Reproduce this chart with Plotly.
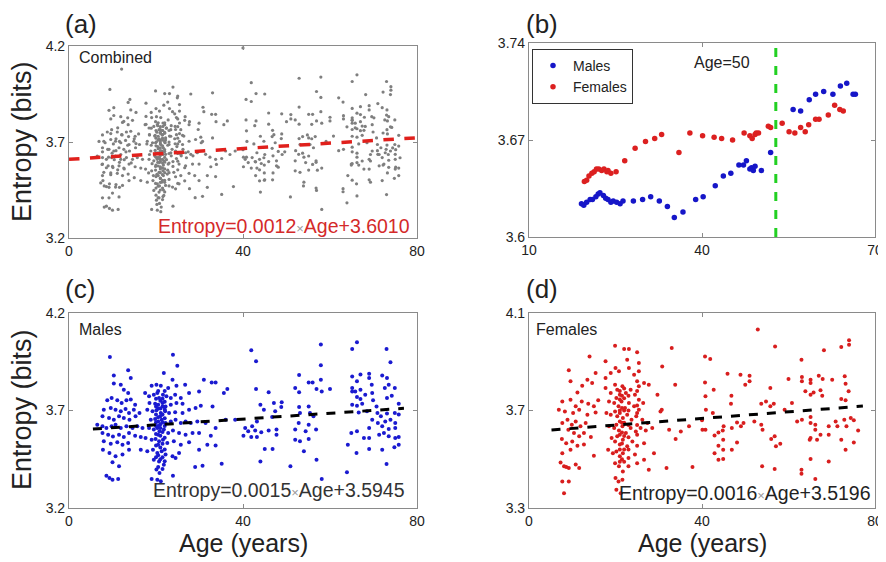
import plotly.graph_objects as go

# ---------------- data ----------------
# (c) Males: [age, entropy]
males_pts = [
 [41.9,4.009],[43.0,3.952],[43.0,3.810],[45.9,3.793],[44.0,3.730],[44.8,3.704],[47.1,3.738],[48.9,3.742],
 [48.8,3.718],[47.4,3.696],[46.7,3.667],[43.2,3.644],[42.1,3.619],[41.2,3.593],[42.8,3.598],[44.2,3.588],
 [45.9,3.598],[47.7,3.602],[47.7,3.576],[40.5,3.610],[40.1,3.571],[41.9,3.564],[43.2,3.564],[45.0,3.503],
 [46.8,3.503],[44.0,3.439],[50.9,3.414],[52.9,3.882],[52.0,3.815],[52.9,3.793],[55.1,3.844],[56.0,3.844],
 [57.9,4.038],[57.9,3.932],[57.9,3.858],[56.9,3.810],[58.1,3.798],[60.0,3.810],[52.9,3.718],[55.1,3.721],
 [53.1,3.687],[55.4,3.687],[56.2,3.670],[52.8,3.636],[55.1,3.627],[56.8,3.602],[54.4,3.593],[52.0,3.602],
 [52.0,3.550],[53.1,3.542],[55.1,3.554],[54.0,3.491],[56.9,3.448],[58.1,3.349],[63.9,3.383],[64.1,3.525],
 [64.9,3.585],[66.2,3.593],[66.1,3.482],[65.1,4.015],[66.2,4.050],[65.1,3.875],[67.0,3.884],[69.0,3.889],
 [69.0,3.867],[66.2,3.850],[65.1,3.815],[65.1,3.798],[65.8,3.798],[67.0,3.806],[66.2,3.769],[67.0,3.759],
 [65.1,3.730],[66.2,3.725],[67.4,3.735],[68.1,3.781],[69.6,3.832],[69.7,3.790],[69.9,3.752],[70.7,3.721],
 [66.6,3.690],[68.5,3.696],[72.0,3.879],[73.1,3.867],[73.5,3.832],[72.6,3.815],[74.9,3.815],[73.1,3.764],
 [74.2,3.776],[75.8,3.735],[70.9,3.687],[71.7,3.670],[73.1,3.684],[74.9,3.687],[75.8,3.679],[69.7,3.653],
 [71.0,3.636],[72.7,3.644],[73.9,3.653],[75.0,3.636],[69.0,3.610],[72.0,3.619],[73.5,3.605],[75.0,3.610],
 [67.8,3.559],[69.0,3.559],[71.3,3.576],[72.4,3.585],[73.5,3.568],[75.0,3.559],[75.8,3.564],[69.0,3.503],
 [72.0,3.499],[74.8,3.511],[75.8,3.525],[73.0,4.015],[73.9,3.947],[73.0,3.426],
 [9.4,3.974],[10.3,3.879],[10.3,3.838],[13.6,3.906],[14.2,3.867],[11.9,3.832],[12.6,3.807],[13.6,3.790],
 [9.8,3.764],[11.1,3.752],[12.1,3.738],[13.2,3.752],[14.2,3.756],[15.2,3.730],[8.8,3.752],[8.0,3.704],
 [9.6,3.713],[10.7,3.704],[11.9,3.696],[13.0,3.708],[13.8,3.687],[14.9,3.704],[7.7,3.670],[9.2,3.662],
 [10.3,3.653],[11.5,3.670],[12.6,3.662],[13.9,3.653],[15.3,3.670],[16.2,3.687],[6.5,3.627],[7.7,3.619],
 [8.6,3.610],[9.8,3.619],[10.7,3.627],[11.9,3.610],[13.2,3.619],[14.6,3.610],[15.7,3.619],[16.9,3.610],
 [7.7,3.585],[9.0,3.576],[10.1,3.567],[11.5,3.576],[12.6,3.564],[13.8,3.585],[15.2,3.571],[16.5,3.564],
 [8.0,3.542],[9.6,3.530],[11.1,3.537],[12.3,3.525],[13.6,3.533],[7.8,3.499],[9.3,3.482],[10.7,3.465],
 [12.3,3.474],[13.8,3.499],[10.0,3.434],[11.5,3.414],[8.6,3.366],[9.3,3.354],[10.0,3.345],[11.3,3.349],
 [19.0,3.827],[20.1,3.832],[21.1,3.827],[21.8,3.892],[23.9,3.986],[24.9,3.930],[23.8,3.858],[24.7,3.827],
 [26.7,3.832],[22.8,3.815],[17.5,3.790],[18.4,3.773],[19.5,3.781],[20.3,3.790],[20.7,3.764],[21.6,3.781],
 [22.4,3.773],[23.4,3.764],[24.4,3.781],[25.7,3.764],[27.6,3.790],[29.9,3.798],[31.0,3.858],[32.8,3.844],
 [33.7,3.844],[35.6,3.790],[36.4,3.810],[18.5,3.738],[19.8,3.735],[20.5,3.730],[21.5,3.738],[22.2,3.721],
 [23.4,3.730],[24.7,3.738],[26.1,3.735],[18.0,3.704],[19.2,3.696],[20.1,3.701],[21.1,3.687],[22.1,3.696],
 [23.0,3.687],[24.4,3.691],[26.1,3.687],[27.6,3.704],[29.1,3.713],[30.3,3.725],[33.0,3.721],[18.8,3.653],
 [19.8,3.656],[20.5,3.644],[21.3,3.653],[22.2,3.636],[23.4,3.644],[24.5,3.653],[25.7,3.636],[26.8,3.644],
 [28.0,3.636],[29.5,3.644],[31.4,3.636],[33.7,3.610],[36.0,3.653],[38.2,3.653],[18.4,3.610],[19.5,3.602],
 [20.3,3.610],[20.8,3.593],[21.8,3.602],[22.8,3.585],[23.9,3.598],[25.3,3.585],[26.8,3.576],[28.4,3.585],
 [29.9,3.585],[32.6,3.571],[17.6,3.559],[19.0,3.550],[19.9,3.554],[20.7,3.542],[21.6,3.550],[22.6,3.533],
 [24.1,3.542],[25.7,3.525],[27.6,3.537],[29.9,3.499],[31.8,3.525],[33.7,3.520],[16.5,3.499],[18.0,3.491],
 [19.3,3.499],[20.3,3.482],[21.3,3.491],[22.2,3.474],[23.8,3.465],[25.3,3.482],[19.5,3.448],[20.7,3.439],
 [21.8,3.422],[24.5,3.456],[29.0,3.410],[30.7,3.417],[35.1,3.427],[20.1,3.397],[20.8,3.380],[19.0,3.349],
 [20.3,3.345],[21.1,3.337],[23.9,3.366],
 [20.0,3.760],[20.0,3.720],[20.0,3.680],[20.0,3.640],[20.0,3.620],[20.0,3.580],[20.0,3.520],[20.0,3.460],
 [21.0,3.750],[21.0,3.710],[21.0,3.670],[21.0,3.630],[21.0,3.610],[21.0,3.570],[21.0,3.510],[21.0,3.450],
 [22.0,3.800],[22.0,3.745],[22.0,3.705],[22.0,3.660],[22.0,3.620],[22.0,3.560],[22.0,3.500],[22.0,3.440],
 [20.5,3.800],[20.5,3.710],[20.5,3.665],[20.5,3.620],[20.5,3.575],[20.5,3.525],[20.5,3.470],[20.5,3.410],
 [21.5,3.760],[21.5,3.720],[21.5,3.680],[21.5,3.640],[21.5,3.590],[21.5,3.530],[21.5,3.460],[21.5,3.400],
]

# (d) Females: [age, entropy]
females_pts = [
 [52.9,4.032],[56.9,3.963],[40.7,3.922],[41.9,3.911],[45.9,3.851],[48.9,3.847],[51.0,3.843],[51.0,3.820],
 [50.0,3.806],[55.8,3.792],[60.0,3.829],[63.0,3.908],[63.1,3.837],[63.1,3.820],[65.1,3.826],[65.1,3.813],
 [67.0,3.843],[67.9,3.829],[70.1,3.826],[73.0,3.840],[73.2,3.810],[73.9,3.779],[72.2,3.747],[73.2,3.742],
 [68.2,3.947],[72.2,3.960],[74.0,3.988],[74.0,3.970],[40.7,3.815],[42.7,3.785],[40.8,3.758],[46.8,3.761],
 [46.7,3.728],[40.9,3.703],[53.7,3.728],[54.8,3.737],[55.8,3.717],[56.6,3.728],[59.1,3.703],[60.8,3.731],
 [63.9,3.779],[65.1,3.765],[65.8,3.774],[67.4,3.783],[67.8,3.761],[40.8,3.621],[42.5,3.690],[42.9,3.597],
 [43.8,3.610],[44.8,3.618],[45.0,3.635],[46.9,3.628],[48.1,3.651],[49.6,3.649],[49.0,3.635],[52.1,3.655],
 [53.7,3.642],[54.0,3.621],[44.9,3.580],[43.8,3.555],[44.9,3.539],[42.9,3.525],[43.8,3.498],[44.9,3.501],
 [46.9,3.539],[48.1,3.569],[53.9,3.471],[56.0,3.583],[56.8,3.594],[57.1,3.553],[58.1,3.564],[56.8,3.460],
 [62.0,3.655],[63.1,3.662],[65.1,3.673],[65.1,3.649],[66.2,3.642],[66.2,3.621],[64.9,3.580],[65.1,3.587],
 [66.6,3.580],[67.4,3.601],[69.3,3.635],[70.9,3.655],[71.3,3.635],[72.9,3.662],[73.4,3.635],[74.4,3.669],
 [75.1,3.660],[76.1,3.618],[69.3,3.601],[72.2,3.580],[75.1,3.569],[73.2,3.539],[65.1,3.501],[63.0,3.457],
 [63.0,3.441],[66.2,3.419],[69.3,3.491],[40.0,3.660],
 [19.9,3.966],[14.0,3.922],[9.2,3.865],[15.4,3.854],[17.7,3.902],[22.0,3.952],[23.1,3.952],[25.0,3.939],
 [25.4,3.895],[33.0,3.956],[30.8,3.881],[33.8,3.806],[9.6,3.820],[11.2,3.774],[12.3,3.802],[13.5,3.826],
 [14.6,3.813],[7.7,3.737],[9.6,3.744],[10.8,3.717],[12.2,3.737],[13.7,3.728],[15.0,3.717],[16.0,3.742],
 [6.9,3.703],[8.3,3.696],[10.2,3.690],[11.6,3.703],[13.5,3.683],[15.4,3.692],[7.7,3.649],[8.9,3.662],
 [9.9,3.642],[10.8,3.655],[11.9,3.635],[13.1,3.649],[9.1,3.621],[10.4,3.608],[11.6,3.594],[12.7,3.608],
 [14.3,3.591],[7.6,3.583],[8.6,3.566],[10.0,3.573],[11.2,3.555],[12.7,3.560],[15.0,3.514],[7.7,3.525],
 [9.6,3.539],[7.3,3.487],[8.1,3.471],[8.6,3.468],[10.8,3.478],[11.6,3.464],[9.2,3.464],[7.7,3.409],
 [9.2,3.409],[8.1,3.361],
 [17.7,3.833],[18.9,3.854],[20.0,3.874],[20.8,3.861],[22.7,3.908],[23.1,3.874],[24.3,3.847],[25.4,3.861],
 [26.6,3.813],[27.7,3.806],[29.7,3.765],[30.7,3.703],[17.7,3.792],[18.9,3.772],[19.9,3.806],[20.4,3.785],
 [21.0,3.765],[21.6,3.799],[22.4,3.772],[23.5,3.785],[24.5,3.765],[25.4,3.799],[25.4,3.744],[18.5,3.737],
 [19.7,3.731],[20.2,3.751],[20.7,3.717],[21.4,3.737],[22.2,3.710],[23.1,3.731],[24.3,3.717],[25.4,3.703],
 [26.4,3.731],[17.9,3.690],[18.9,3.683],[19.9,3.696],[20.4,3.676],[21.0,3.690],[21.7,3.669],[22.7,3.683],
 [23.7,3.662],[24.8,3.676],[26.2,3.662],[27.4,3.649],[30.4,3.696],[18.5,3.635],[19.7,3.628],[20.2,3.642],
 [20.8,3.618],[21.6,3.635],[22.4,3.608],[23.5,3.628],[24.7,3.614],[25.8,3.628],[27.0,3.618],[28.5,3.628],
 [32.4,3.621],[19.1,3.587],[19.9,3.573],[20.4,3.594],[21.0,3.560],[21.7,3.580],[22.7,3.553],[23.9,3.573],
 [25.0,3.555],[26.6,3.566],[18.3,3.539],[19.4,3.525],[20.2,3.532],[21.0,3.512],[21.7,3.525],[23.0,3.505],
 [24.5,3.519],[26.6,3.498],[28.9,3.525],[19.9,3.484],[20.8,3.471],[21.7,3.450],[23.0,3.471],[25.0,3.484],
 [31.8,3.464],[37.8,3.468],[20.0,3.423],[20.7,3.409],[21.6,3.416],[20.2,3.375],[21.2,3.361],[27.7,3.457],
 [33.9,3.583],[35.1,3.614],[37.0,3.635],[40.1,3.621],
 [21.0,3.780],[21.0,3.745],[21.0,3.700],[21.0,3.655],[21.0,3.600],[21.0,3.540],[21.0,3.490],
 [22.0,3.790],[22.0,3.750],[22.0,3.700],[22.0,3.650],[22.0,3.595],[22.0,3.540],[22.0,3.490],
 [25.0,3.820],[25.0,3.780],[25.0,3.720],[25.0,3.690],[25.0,3.640],[25.0,3.600],
 [21.5,3.760],[21.5,3.710],[21.5,3.650],[21.5,3.610],[21.5,3.565],[21.5,3.500],
 [23.0,3.760],[23.0,3.700],[23.0,3.640],[23.0,3.590],[23.0,3.540],
]

# (a) Combined-only extra subjects: [age, entropy]
extra_pts = [[12.1,4.080],[40.0,4.190],[28.0,3.950],[45.0,3.950],[62.0,3.930],[71.0,3.900]]

# (b) Moving averages
b_male_age = [19.1,19.5,20.0,20.6,21.0,21.6,22.0,22.3,22.9,23.3,23.7,24.2,24.6,25.2,25.8,26.3,28.1,29.7,
              31.1,32.6,34.0,35.2,36.7,38.9,40.2,42.3,43.7,45.0,46.4,47.2,47.7,48.3,48.6,48.9,49.2,50.3,
              51.9,55.8,57.1,58.6,59.7,61.1,62.7,64.0,65.1,66.2,66.6]
b_male_ent = [3.624,3.623,3.625,3.627,3.627,3.629,3.631,3.632,3.630,3.628,3.627,3.625,3.626,3.625,3.624,
              3.626,3.626,3.627,3.629,3.626,3.622,3.614,3.618,3.627,3.629,3.637,3.644,3.646,3.652,3.652,
              3.655,3.649,3.650,3.648,3.651,3.648,3.661,3.692,3.691,3.699,3.703,3.705,3.703,3.709,3.711,
              3.703,3.703]
b_female_age = [19.6,20.0,20.4,20.9,21.3,21.7,22.1,22.6,23.0,23.5,23.7,24.2,25.1,26.6,28.4,30.2,31.8,33.0,
                36.0,37.9,40.1,42.1,43.4,45.3,47.3,48.3,48.7,49.2,49.4,49.8,51.5,51.9,53.9,55.1,56.1,57.1,
                57.9,58.5,59.7,60.3,61.9,63.0,63.9,64.5]
b_female_ent = [3.640,3.641,3.644,3.646,3.647,3.649,3.649,3.648,3.649,3.647,3.648,3.646,3.647,3.655,3.664,
                3.669,3.671,3.674,3.661,3.675,3.673,3.672,3.671,3.670,3.675,3.673,3.671,3.674,3.675,3.675,
                3.680,3.679,3.682,3.676,3.675,3.679,3.676,3.681,3.685,3.685,3.688,3.695,3.692,3.691]
threshold_age = [52.8, 52.8]
threshold_ent = [3.60, 3.74]

# Fit lines (end points)
fit_a_x, fit_a_y = [0, 80], [3.610, 3.722]
fit_c_x, fit_c_y = [5.5, 77.0], [3.605, 3.711]
fit_d_x, fit_d_y = [5.2, 77.2], [3.620, 3.718]

# ---------------- figure ----------------
# The page body keeps its default 8 px margin, so the figure starts 8 px in
# and is sized to reach the window's right and bottom edges; positions below
# are window pixels.
OFF = 8
W, H = 886 - OFF, 562 - OFF
def px(x): return (x - OFF) / W
def py(y): return 1 - (y - OFF) / H

FONT = "Liberation Sans, Arial, sans-serif"
TXT = "#222222"

males_age = [p[0] for p in males_pts]
males_ent = [p[1] for p in males_pts]
fem_age = [p[0] for p in females_pts]
fem_ent = [p[1] for p in females_pts]
comb_age = males_age + fem_age + [p[0] for p in extra_pts]
comb_ent = males_ent + fem_ent + [p[1] for p in extra_pts]

fig = go.Figure()

# (a)
fig.add_trace(go.Scatter(x=comb_age, y=comb_ent, mode="markers", xaxis="x", yaxis="y",
                         marker=dict(color="#7f7f7f", size=3.2), showlegend=False))
fig.add_trace(go.Scatter(x=fit_a_x, y=fit_a_y, mode="lines", xaxis="x", yaxis="y",
                         line=dict(color="#e0201c", width=3.5, dash="dash"), showlegend=False))
# (b)
fig.add_trace(go.Scatter(x=b_male_age, y=b_male_ent, mode="markers", xaxis="x2", yaxis="y2",
                         marker=dict(color="#1616c8", size=5.5), name="Males"))
fig.add_trace(go.Scatter(x=b_female_age, y=b_female_ent, mode="markers", xaxis="x2", yaxis="y2",
                         marker=dict(color="#dc2020", size=5.5), name="Females"))
fig.add_trace(go.Scatter(x=threshold_age, y=threshold_ent, mode="lines", xaxis="x2", yaxis="y2",
                         line=dict(color="#22d022", width=3, dash="dash"), showlegend=False))
# (c)
fig.add_trace(go.Scatter(x=males_age, y=males_ent, mode="markers", xaxis="x3", yaxis="y3",
                         marker=dict(color="#1a1ad0", size=4), showlegend=False))
fig.add_trace(go.Scatter(x=fit_c_x, y=fit_c_y, mode="lines", xaxis="x3", yaxis="y3",
                         line=dict(color="black", width=3, dash="dash"), showlegend=False))
# (d)
fig.add_trace(go.Scatter(x=fem_age, y=fem_ent, mode="markers", xaxis="x4", yaxis="y4",
                         marker=dict(color="#d81e1e", size=4), showlegend=False))
fig.add_trace(go.Scatter(x=fit_d_x, y=fit_d_y, mode="lines", xaxis="x4", yaxis="y4",
                         line=dict(color="black", width=3, dash="dash"), showlegend=False))

def ax(domain, rng, tickvals, ticktext, anchor):
    return dict(domain=domain, range=rng, tickvals=tickvals, ticktext=ticktext, anchor=anchor,
                automargin=False,
                showgrid=False, zeroline=False, showline=True, mirror="ticks", linecolor="#8a8a8a",
                linewidth=1.2, ticks="inside", ticklen=4, tickcolor="#8a8a8a",
                tickfont=dict(family=FONT, size=14, color=TXT))

xl = [px(69), px(417)]
xr = [px(529), px(875)]
yt_a = [py(238), py(46)]
yt_b = [py(237), py(43)]
yb = [py(508), py(313)]

fig.update_layout(
    width=W, height=H, margin=dict(l=0, r=0, t=0, b=0, autoexpand=False),
    paper_bgcolor="white", plot_bgcolor="white",
    xaxis=ax(xl, [0, 80], [0, 40, 80], ["0", "40", "80"], "y"),
    yaxis=ax(yt_a, [3.2, 4.2], [3.2, 3.7, 4.2], ["3.2", "3.7", "4.2"], "x"),
    xaxis2=ax(xr, [10, 70], [10, 40, 70], ["10", "40", "70"], "y2"),
    yaxis2=ax(yt_b, [3.6, 3.74], [3.6, 3.67, 3.74], ["3.6", "3.67", "3.74"], "x2"),
    xaxis3=ax(xl, [0, 80], [0, 40, 80], ["0", "40", "80"], "y3"),
    yaxis3=ax(yb, [3.2, 4.2], [3.2, 3.7, 4.2], ["3.2", "3.7", "4.2"], "x3"),
    xaxis4=ax(xr, [0, 80], [0, 40, 80], ["0", "40", "80"], "y4"),
    yaxis4=ax(yb, [3.3, 4.1], [3.3, 3.7, 4.1], ["3.3", "3.7", "4.1"], "x4"),
    legend=dict(x=px(532), y=py(49), xanchor="left", yanchor="top", bgcolor="white",
                bordercolor="#333333", borderwidth=1, font=dict(family=FONT, size=14, color=TXT),
                itemwidth=30, tracegroupgap=0),
    showlegend=True,
)

ann = []
def A(x, y, text, size, color=TXT, xanchor="left", yanchor="middle", angle=0):
    ann.append(dict(x=px(x), y=py(y), xref="paper", yref="paper", text=text, showarrow=False,
                    xanchor=xanchor, yanchor=yanchor, textangle=angle,
                    font=dict(family=FONT, size=size, color=color)))

A(63, 24, "(a)", 26); A(524, 24, "(b)", 26); A(63, 289, "(c)", 26); A(524, 289, "(d)", 26)
A(22, 142, "Entropy (bits)", 27, xanchor="center", angle=-90)
A(22, 410, "Entropy (bits)", 27, xanchor="center", angle=-90)
A(243, 543, "Age (years)", 25, xanchor="center")
A(702, 543, "Age (years)", 25, xanchor="center")
A(77, 57, "Combined", 16)
A(77, 329, "Males", 16)
A(534, 329, "Females", 16)
A(692, 62, "Age=50", 16)
A(412, 226, "Entropy=0.0012<span style='color:#999;font-size:13px'>×</span>Age+3.6010", 19.5,
  color="#d42a2a", xanchor="right")
A(407, 490, "Entropy=0.0015<span style='color:#999;font-size:13px'>×</span>Age+3.5945", 19.5,
  color="#333333", xanchor="right")
A(873, 493, "Entropy=0.0016<span style='color:#999;font-size:13px'>×</span>Age+3.5196", 19.5,
  color="#222222", xanchor="right")
fig.update_layout(annotations=ann)

fig.write_html("out.html")
